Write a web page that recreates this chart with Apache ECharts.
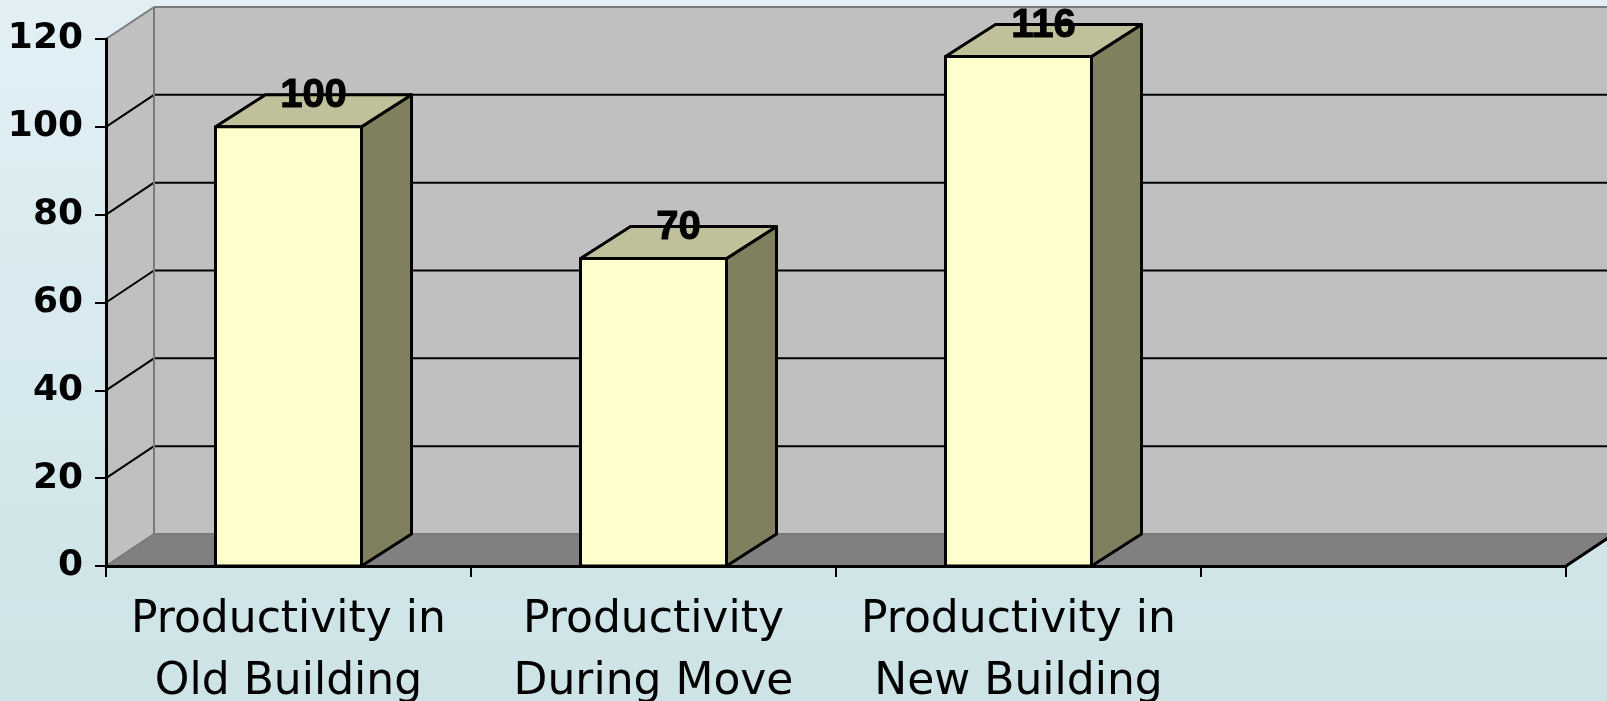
<!DOCTYPE html>
<html>
<head>
<meta charset="utf-8">
<script src="https://cdn.jsdelivr.net/npm/echarts@6/dist/echarts.min.js"></script>
<style>
html,body{margin:0;padding:0;}
#chart{width:1607px;height:701px;background:linear-gradient(180deg,#e2f0f6 0%,#d8eaef 45%,#cde3e6 100%);}
</style>
</head>
<body>
<div id="chart"></div>
<script>
// 数据
var categories = ['Productivity in\nOld Building', 'Productivity\nDuring Move', 'Productivity in\nNew Building', ''];
var values = [100, 70, 116];
var yTicks = [0, 20, 40, 60, 80, 100, 120];

// 立体效果的偏移
var WALL_DX = 48, WALL_DY = 32;
var BAR_DX = 50, BAR_DY = 32;
var FONT = '"DejaVu Sans", "Liberation Sans", Arial, sans-serif';
var LABEL_FONT = '"Liberation Sans", Arial, sans-serif';

// 画背景墙、侧墙、地板和网格线
function renderWalls(params, api){
    var cs = params.coordSys;
    var x0 = cs.x, x1 = cs.x + cs.width;
    var yTop = cs.y, yBot = cs.y + cs.height;
    var children = [];
    children.push({type:'rect', shape:{x:x0+WALL_DX, y:yTop-WALL_DY, width:cs.width+WALL_DX, height:cs.height}, style:{fill:'#c0c0c0'}});
    children.push({type:'polygon', shape:{points:[[x0,yBot],[x0,yTop],[x0+WALL_DX,yTop-WALL_DY],[x0+WALL_DX,yBot-WALL_DY]]}, style:{fill:'#c0c0c0'}});
    children.push({type:'polygon', shape:{points:[[x0,yBot],[x1,yBot],[x1+WALL_DX,yBot-WALL_DY],[x0+WALL_DX,yBot-WALL_DY]]}, style:{fill:'#808080'}});
    for(var i=0;i<yTicks.length;i++){
        var y = api.coord([0, yTicks[i]])[1];
        var edge = (i==0 || i==yTicks.length-1);
        var col = edge ? '#7a7a7a' : '#000';
        children.push({type:'line', shape:{x1:x0, y1:y, x2:x0+WALL_DX, y2:y-WALL_DY}, style:{stroke:col, lineWidth:2}});
        children.push({type:'line', shape:{x1:x0+WALL_DX, y1:y-WALL_DY, x2:x1+WALL_DX+10, y2:y-WALL_DY}, style:{stroke:col, lineWidth:2}});
    }
    // 背景墙左边
    children.push({type:'line', shape:{x1:x0+WALL_DX, y1:yTop-WALL_DY, x2:x0+WALL_DX, y2:yBot-WALL_DY}, style:{stroke:'#7a7a7a', lineWidth:2}});
    // 地板右边
    children.push({type:'line', shape:{x1:x1, y1:yBot, x2:x1+WALL_DX, y2:yBot-WALL_DY}, style:{stroke:'#000', lineWidth:3}});
    return {type:'group', children:children};
}

// 画立体柱子
function renderBar(params, api){
    var idx = api.value(0), val = api.value(1);
    var top = api.coord([idx, val]);
    var base = api.coord([idx, 0]);
    var w = api.size([1, 0])[0] * 0.4;
    var xl = top[0] - w/2, xr = top[0] + w/2;
    var yt = top[1], yb = base[1];
    var st = {stroke:'#000', lineWidth:3, lineJoin:'round'};
    return {type:'group', children:[
        {type:'polygon', shape:{points:[[xr,yt],[xr+BAR_DX,yt-BAR_DY],[xr+BAR_DX,yb-BAR_DY],[xr,yb]]}, style:Object.assign({fill:'#80805f'}, st)},
        {type:'polygon', shape:{points:[[xl,yt],[xl+BAR_DX,yt-BAR_DY],[xr+BAR_DX,yt-BAR_DY],[xr,yt]]}, style:Object.assign({fill:'#c0c09a'}, st)},
        {type:'rect', shape:{x:xl, y:yt, width:w, height:yb-yt}, style:Object.assign({fill:'#ffffcc'}, st)},
        {type:'text', style:{x:top[0]+BAR_DX/2, y:yt-BAR_DY+1, text:String(val), fill:'#000', font:'bold 40px '+LABEL_FONT, align:'center', verticalAlign:'middle', stroke:'#000', lineWidth:1}}
    ]};
}

var barData = [];
for(var i=0;i<values.length;i++){
    barData.push([i, values[i]]);
}

var chart = echarts.init(document.getElementById('chart'));
var option = {
    animation:false,
    grid:{left:106, right:41, top:39, bottom:135, outerBoundsMode:'none', containLabel:false},
    xAxis:{
        type:'category',
        data:categories,
        z:10,
        axisLine:{lineStyle:{color:'#000', width:3}},
        axisTick:{show:true, length:11, lineStyle:{color:'#000', width:2}},
        axisLabel:{interval:0, margin:24, fontSize:44, lineHeight:62, color:'#000', fontFamily:FONT},
        splitLine:{show:false}
    },
    yAxis:{
        type:'value',
        min:0, max:120, interval:20,
        z:10,
        axisLine:{show:true, lineStyle:{color:'#000', width:3}},
        axisTick:{show:true, length:11, lineStyle:{color:'#000', width:2}},
        axisLabel:{margin:23, fontSize:36, fontWeight:'bold', color:'#000', fontFamily:FONT},
        splitLine:{show:false}
    },
    series:[
        {type:'custom', silent:true, z:1, renderItem:renderWalls, data:[[0, 0]]},
        {type:'custom', z:3, renderItem:renderBar, data:barData}
    ]
};
chart.setOption(option, true);
</script>
</body>
</html>
